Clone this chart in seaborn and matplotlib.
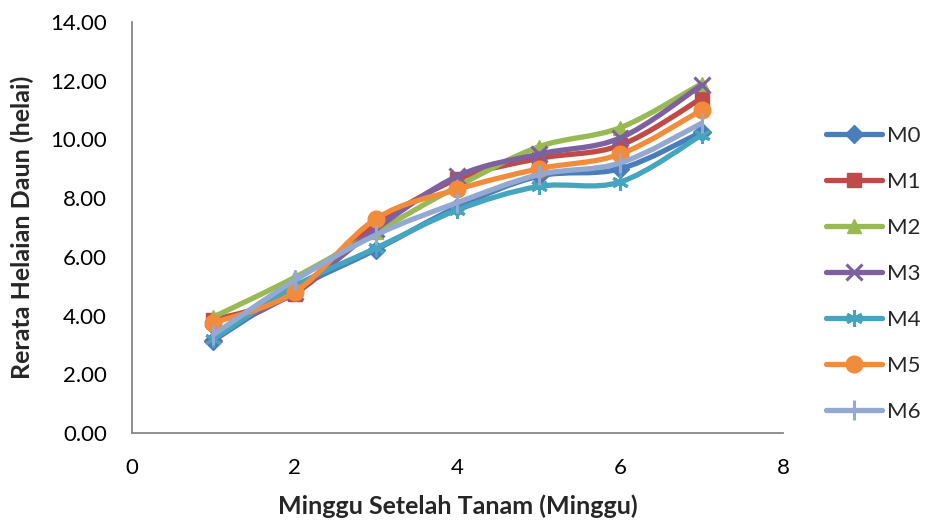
import numpy as np
import pandas as pd
import seaborn as sns
import matplotlib
matplotlib.use("Agg")
import matplotlib.pyplot as plt
from matplotlib.path import Path
from matplotlib.patches import PathPatch
from matplotlib.lines import Line2D
from matplotlib.ticker import FormatStrFormatter

# Weeks after planting
weeks = [1, 2, 3, 4, 5, 6, 7]

# Mean leaf count per treatment
m0 = [3.15, 4.90, 6.25, 7.70, 8.75, 9.00, 10.25]
m1 = [3.85, 4.75, 7.10, 8.65, 9.35, 9.80, 11.40]
m2 = [3.95, 5.30, 6.85, 8.40, 9.75, 10.40, 11.90]
m3 = [3.40, 4.80, 6.95, 8.75, 9.50, 10.05, 11.85]
m4 = [3.20, 5.00, 6.30, 7.60, 8.40, 8.55, 10.15]
m5 = [3.75, 4.80, 7.30, 8.30, 9.00, 9.50, 11.00]
m6 = [3.35, 5.20, 6.75, 7.85, 8.80, 9.20, 10.55]

series_names = ["M0", "M1", "M2", "M3", "M4", "M5", "M6"]
series_values = [m0, m1, m2, m3, m4, m5, m6]

colors = ["#4A7EBB", "#BE4B48", "#98B954", "#7D60A0", "#46A5BE", "#F08C3C", "#93A9D2"]
markers = ["D", "s", "^", "x", (6, 2, 0), "o", "|"]
msizes = [9, 10, 10, 11, 12, 12, 14]

x_ticks = [0, 2, 4, 6, 8]
y_ticks = [0, 2, 4, 6, 8, 10, 12, 14]

df = pd.DataFrame(
    [(w, v, n) for n, vals in zip(series_names, series_values) for w, v in zip(weeks, vals)],
    columns=["week", "value", "series"],
)

sns.set_theme(style="white")
plt.rcParams["font.family"] = ["Lato", "DejaVu Sans"]

fig = plt.figure(figsize=(9.28, 5.23), dpi=100)
ax = fig.add_axes([132 / 928, 1 - 433 / 523, (783 - 132) / 928, (433 - 22) / 523])


def smooth_path(xs, ys):
    """Cubic Bezier path through the points (smoothed line style)."""
    pts = np.column_stack([xs, ys]).astype(float)
    n = len(pts)
    verts = [pts[0]]
    codes = [Path.MOVETO]
    for i in range(n - 1):
        p0 = pts[i - 1] if i > 0 else pts[i]
        p1 = pts[i]
        p2 = pts[i + 1]
        p3 = pts[i + 2] if i + 2 < n else pts[i + 1]
        c1 = p1 + (p2 - p0) / 6.0
        c2 = p2 - (p3 - p1) / 6.0
        verts += [c1, c2, p2]
        codes += [Path.CURVE4] * 3
    return Path(verts, codes)


handles = []
for k, name in enumerate(series_names):
    sub = df[df["series"] == name]
    z = 3 + 2 * k
    mew = 2.2 if k in (3, 4, 6) else 1
    patch = PathPatch(smooth_path(sub["week"], sub["value"]), facecolor="none",
                      edgecolor=colors[k], lw=3.8, capstyle="round",
                      joinstyle="round", zorder=z)
    ax.add_patch(patch)
    sns.lineplot(data=sub, x="week", y="value", ax=ax, color=colors[k],
                 linestyle="none", marker=markers[k], markersize=msizes[k],
                 markeredgecolor=colors[k], markeredgewidth=mew,
                 zorder=z + 1, legend=False)
    handles.append(Line2D([0], [0], color=colors[k], lw=3.8, solid_capstyle="round",
                          marker=markers[k], markersize=msizes[k],
                          markeredgecolor=colors[k], markeredgewidth=mew))

ax.set_xlim(0, 8)
ax.set_ylim(0, 14)
ax.set_xticks(x_ticks)
ax.set_yticks(y_ticks)
ax.yaxis.set_major_formatter(FormatStrFormatter("%.2f"))
ax.tick_params(axis="both", length=0, labelsize=16, colors="black")
ax.tick_params(axis="y", pad=18)
ax.tick_params(axis="x", pad=18)

for side in ("top", "right"):
    ax.spines[side].set_visible(False)
for side in ("left", "bottom"):
    ax.spines[side].set_color("#888888")
    ax.spines[side].set_linewidth(1.3)

ax.set_xlabel("Minggu Setelah Tanam (Minggu)", fontsize=18, fontweight="bold", labelpad=12)
ax.set_ylabel("Rerata Helaian Daun (helai)", fontsize=18, fontweight="bold", labelpad=12)

fig.legend(handles, series_names, loc="center left",
           bbox_to_anchor=(826 / 928, 1 - 274 / 523), frameon=False,
           fontsize=16, handlelength=2.5, handletextpad=0.25,
           labelspacing=1.17, borderpad=0, borderaxespad=0)

fig.savefig("out.png", dpi=100)
